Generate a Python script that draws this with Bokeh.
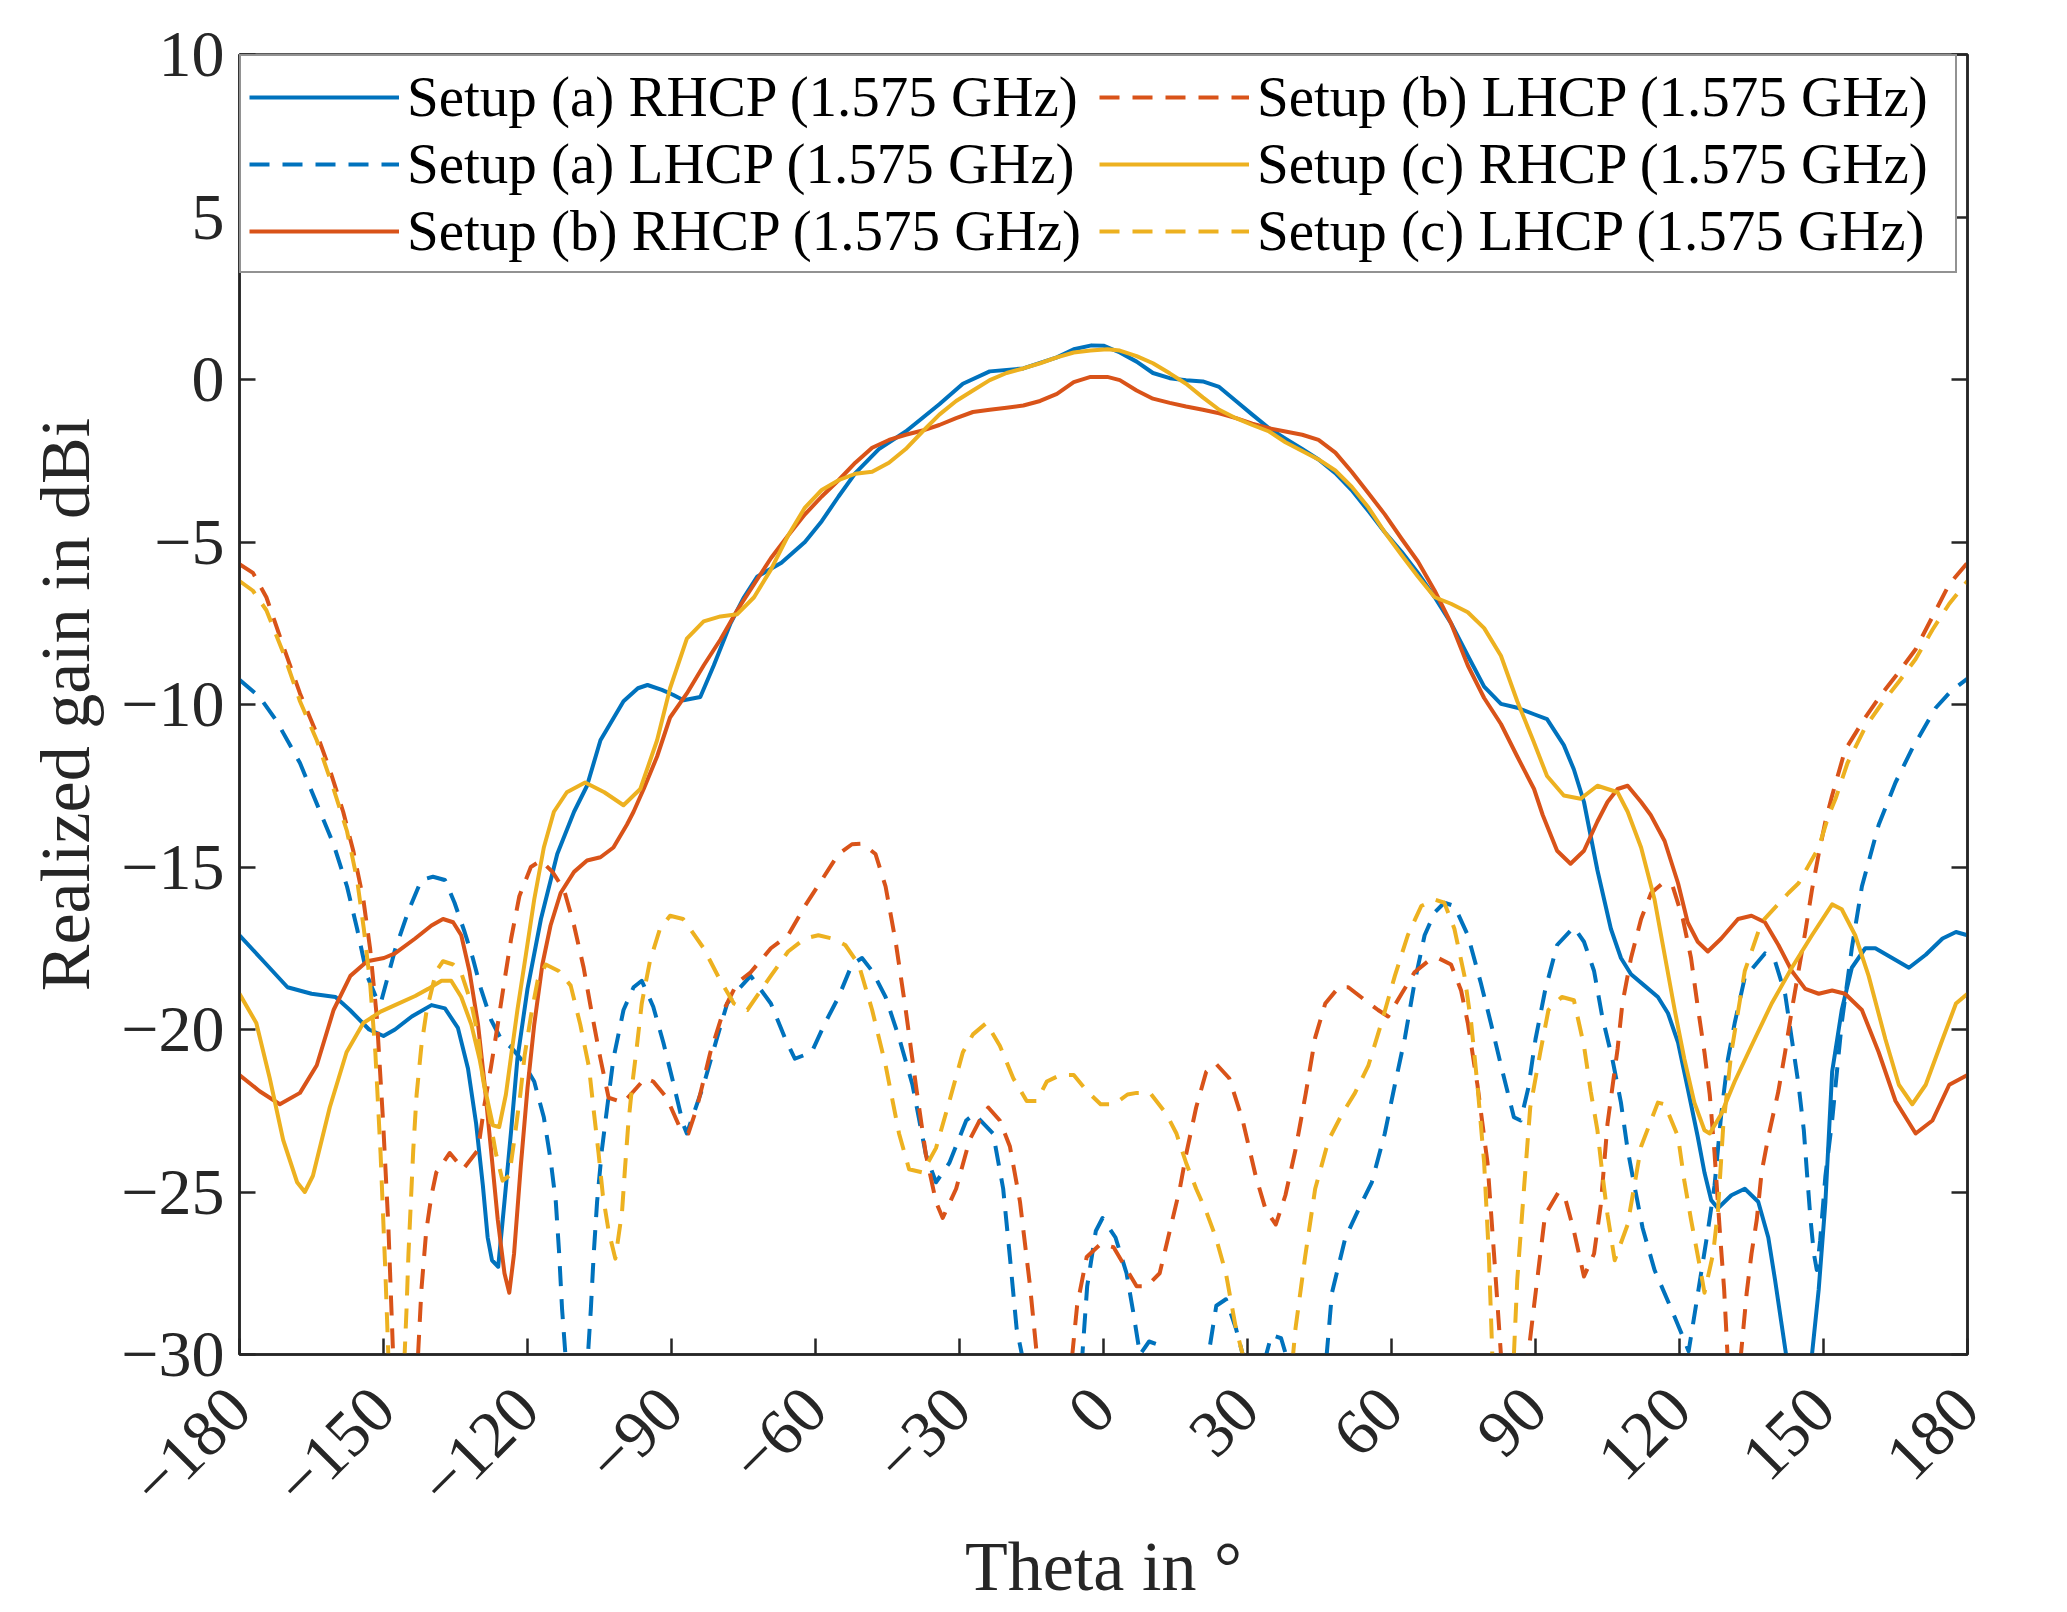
import math
from bokeh.plotting import figure
from bokeh.models import Range1d, FixedTicker, LinearAxis, Legend, LegendItem
from bokeh.embed import file_html
from bokeh.resources import INLINE

# ---------------- data ----------------
x_ticks = [-180, -150, -120, -90, -60, -30, 0, 30, 60, 90, 120, 150, 180]
y_ticks = [-30, -25, -20, -15, -10, -5, 0, 5, 10]

series_labels = [
    "Setup (a) RHCP (1.575 GHz)",
    "Setup (a) LHCP (1.575 GHz)",
    "Setup (b) RHCP (1.575 GHz)",
    "Setup (b) LHCP (1.575 GHz)",
    "Setup (c) RHCP (1.575 GHz)",
    "Setup (c) LHCP (1.575 GHz)",
]

# Setup (a) RHCP
theta_a_rhcp = [-180, -175, -170, -165, -160, -157, -153, -150, -147.6, -144.1, -140, -137.2, -134.5,
                -132.4, -130.7, -129.3, -128.3, -127.4, -126.1, -124.8, -123.4, -122.1, -120, -117.2,
                -113.8, -110.3, -107.6, -104.8, -102, -100, -97, -95, -92, -89.7, -87.5, -84, -81.2,
                -77.7, -74.9, -72.1, -67.1, -62.2, -58.7, -55.2, -51.7, -46.8, -41.2, -34.2, -29.3,
                -23.7, -16.7, -9.7, -6.2, -2.5, 0, 3.4, 6.9, 10.3, 13.8, 17.2, 20.7, 24.1, 27.6, 31,
                34.5, 37.9, 41.4, 44.8, 48.3, 51.7, 55.2, 58.6, 62.1, 65.5, 69, 72.4, 75.9, 79.3,
                82.8, 86.2, 89.7, 92.4, 95.9, 98, 100.1, 102.9, 105.7, 107.8, 109.9, 112.7, 115.5,
                117.6, 119.7, 121.7, 123.8, 125.2, 126.6, 128, 130.8, 133.6, 136.4, 138.5, 139.9,
                141.3, 142.2, 144, 146, 147.6, 149, 150.4, 151.8, 153.8, 155.9, 158.7, 160.8, 164.3,
                167.8, 171.3, 174.8, 177.6, 180]
gain_a_rhcp = [-17.1, -17.9, -18.7, -18.9, -19.0, -19.4, -20.0, -20.2, -20.0, -19.6, -19.25, -19.35, -19.95,
               -21.2, -22.9, -24.8, -26.4, -27.1, -27.3, -25.3, -23.1, -20.9, -18.75, -16.6,
               -14.6, -13.3, -12.5, -11.1, -10.4, -9.9, -9.5, -9.4, -9.55, -9.7, -9.87, -9.77, -8.8,
               -7.5, -6.7, -6.06, -5.64, -5.0, -4.36, -3.6, -2.88, -2.14, -1.6, -0.76, -0.13,
               0.25, 0.34, 0.68, 0.93, 1.05, 1.04, 0.83, 0.55, 0.2, 0.04, -0.02, -0.06, -0.23, -0.66, -1.08,
               -1.5, -1.82, -2.14, -2.46, -2.88, -3.4, -4.05, -4.7, -5.3, -5.95, -6.7, -7.5, -8.5, -9.45,
               -9.98, -10.1, -10.3, -10.45, -11.25, -12.0, -13.0, -15.1, -16.9, -17.8, -18.3, -18.65, -19.0,
               -19.5, -20.4, -21.8, -23.3, -24.4, -25.25, -25.5, -25.1, -24.9, -25.3, -26.4, -27.7,
               -29.1, -30.0, -33, -33, -30.0, -28.0, -25.3, -21.3, -19.4, -18.1, -17.5, -17.5, -17.8,
               -18.1, -17.7, -17.2, -17.0, -17.1]

# Setup (a) LHCP
theta_a_lhcp = [-180, -175.8, -172.3, -167.4, -163.9, -160.4, -157.6, -155.5, -153.4, -151.3, -150.6,
                -147.6, -144.8, -142.1, -139.7, -137.2, -135.2, -133.1, -131.4, -129.7, -127.6, -125.5,
                -123.4, -121.4, -118.6, -116.6, -115.2, -114.1, -113.4, -112.8, -112.1, -110, -108.5,
                -107.4, -106.8, -106.2, -105.5, -104.5, -103.4, -102.1, -100, -97.9, -96.2, -93.8,
                -91.7, -89.7, -87.6, -86.8, -83.3, -80.5, -78.4, -76.3, -73.5, -69.3, -66.4, -64.3,
                -60.8, -58, -55.2, -52.4, -50.3, -48.2, -45.4, -42.6, -39.8, -37, -34.9, -32.1, -28.6,
                -26.9, -23, -20.9, -19.5, -18.1, -17, -14, -7, -4.4, -3.4, -1.6, -0.2, 2.5, 4.8, 6.2,
                7.6, 9.5, 11.5, 13, 15, 20, 22.1, 23.5, 25.5, 27.6, 29, 31, 33, 35, 37, 39, 42, 45,
                46.5, 47.6, 50.4, 53.1, 55.9, 58.6, 60.7, 62.8, 64.8, 66.9, 69, 71, 73.1, 75.9, 78.6,
                80.7, 82.8, 85.5, 86.9, 88.5, 90, 92, 94.5, 98, 100.1, 102.2, 103.9, 106, 107.8,
                109.2, 110.6, 112.3, 114.8, 118.3, 120.7, 121.9, 123.1, 124.5, 125.9, 127.3, 128.7,
                130.1, 131.5, 133.6, 137.8, 139.9, 142, 143.4, 144.8, 145.9, 146.6, 147.3, 148,
                148.6, 149.3, 150.4, 151.8, 153.8, 155.9, 158, 161.5, 165, 168.5, 173.4, 176.5, 180]
gain_a_lhcp = [-9.24, -9.77, -10.5, -11.8, -13.05, -14.3, -15.6, -16.9, -18.35, -19.1, -19.2,
               -17.55, -16.35, -15.4, -15.3, -15.4, -16.1, -17.0, -17.8, -18.75, -19.7, -20.3,
               -20.55, -20.9, -21.6, -22.7, -24.0, -25.3, -26.9, -28.6, -30, -33, -33,
               -30, -28.6, -26.9, -25.3, -23.7, -22.4, -20.9, -19.4, -18.7, -18.5, -19.3,
               -20.4, -21.6, -22.9, -23.2, -21.7, -20.25, -19.2, -18.8, -18.35, -19.2, -20.25, -20.9,
               -20.7, -19.8, -19.0, -18.0, -17.8, -18.2, -19.0, -20.25, -21.7, -23.85, -24.7, -24.1, -22.8,
               -22.6, -23.2, -24.9, -27.0, -29.2, -30, -33, -33, -30, -27.9, -26.2, -25.8, -26.4, -27.5, -28.7,
               -30, -29.6, -29.7, -30.3, -33, -33, -29.8, -28.5, -28.3, -29.2, -30, -33, -30.5, -29.4, -29.5, -30.5, -33, -33,
               -30, -28.1, -26.4, -25.55, -24.7, -23.2, -21.7, -20.25, -18.56, -17.1, -16.4, -16.1, -16.2, -17.1, -18.56,
               -19.8, -21.1, -22.7, -22.8, -21.8, -20.3, -18.8, -17.4, -16.85, -17.3, -18.2, -19.6, -20.9, -22.25,
               -23.7, -24.8, -26.1, -27.4, -28.6, -29.45, -29.9, -28.8, -27.5, -26.2, -24.8, -22.6,
               -20.9, -19.8, -18.4, -17.66, -17.9, -18.9, -20.3, -21.7, -23.1, -24.5, -25.85, -26.9,
               -27.4, -26.5, -24.5, -22.8, -19.8, -17.5, -15.6, -13.7, -12.4, -11.35, -10.1, -9.6, -9.2]

# Setup (b) RHCP
theta_b_rhcp = [-180, -175.8, -171.6, -167.4, -163.9, -160.4, -156.9, -153.4, -149.9, -147.6, -143.4, -140,
                -137.6, -135.5, -133.8, -132.1, -130.3, -129, -127.6, -126.2, -124.8, -123.8, -122.8,
                -121.4, -120, -118.6, -116.9, -115.2, -113.1, -110.3, -107.6, -104.8, -102.1, -99.3,
                -97.9, -95.8, -93, -90.3, -86.8, -83.3, -79.8, -76.3, -72.8, -69.3, -65.7, -62.2, -58.7,
                -55.2, -51.7, -48.2, -44.7, -41.2, -37.7, -34.2, -30.7, -27.2, -23.7, -20.2, -16.7,
                -13.2, -9.7, -6.2, -2.7, 0.8, 3.4, 6.9, 10.3, 13.8, 17.2, 20.7, 24.1, 27.6, 31, 34.5,
                37.9, 41.4, 44.8, 48.3, 51.7, 55.2, 58.6, 62.1, 65.5, 69, 72.4, 75.9, 79.3, 82.8, 86.2,
                89.7, 91.5, 94.5, 97.3, 100.1, 102.9, 105, 107.1, 109.2, 112, 114, 116.9, 119.7, 121.7,
                123.8, 125.9, 128.7, 132.2, 135, 137.8, 140.6, 143.4, 146.2, 149, 151.8, 154.5, 158,
                161.5, 165, 169.2, 172.7, 176.2, 180]
gain_b_rhcp = [-21.4, -21.9, -22.3, -21.95, -21.1, -19.4, -18.35, -17.9, -17.8, -17.66, -17.2, -16.8,
               -16.6, -16.7, -17.1, -18.2, -19.85, -21.6, -23.7, -25.85, -27.5, -28.1, -26.9,
               -24.2, -21.8, -19.85, -18.0, -16.8, -15.8, -15.15, -14.8, -14.7, -14.4, -13.7,
               -13.3, -12.6, -11.6, -10.4, -9.66, -8.8, -8.0, -7.1, -6.3, -5.5, -4.8, -4.15, -3.6,
               -3.1, -2.56, -2.1, -1.86, -1.7, -1.57, -1.4, -1.19, -1.0, -0.93, -0.87, -0.8,
               -0.66, -0.44, -0.08, 0.08, 0.08, -0.02, -0.34, -0.59, -0.72, -0.83, -0.93, -1.04, -1.19, -1.36, -1.5,
               -1.6, -1.7, -1.86, -2.25, -2.84, -3.5, -4.15, -4.9, -5.6, -6.5, -7.5, -8.8, -9.8, -10.6, -11.6,
               -12.6, -13.4, -14.5, -14.9, -14.5, -13.6, -13.0, -12.6, -12.5, -13.0, -13.4, -14.2, -15.5, -16.7,
               -17.3, -17.6, -17.2, -16.6, -16.5, -16.7, -17.4, -18.2, -18.75, -18.9, -18.8, -18.9, -19.4,
               -20.7, -22.2, -23.2, -22.8, -21.7, -21.4]

# Setup (b) LHCP
theta_b_lhcp = [-180, -177.2, -174.4, -170.9, -167.4, -163.9, -161.2, -158.4, -156.3, -154.2, -152.8,
                -151.4, -150.1, -149, -148, -146, -144, -142.8, -142.1, -141.1, -140, -139, -136.2,
                -133.4, -130.3, -129, -127.6, -126.2, -124.8, -123.4, -121.7, -119.3, -117.2, -114.8,
                -112.4, -110.3, -108.3, -106.6, -104.8, -103.1, -100, -97.9, -95.5, -93.8, -91, -88.3,
                -86.5, -84.7, -81.9, -79.1, -76.3, -73.5, -69.3, -65.7, -62.2, -58.7, -55.2, -52.4,
                -50.3, -47.5, -45.4, -43.3, -41.2, -39.1, -37, -34.9, -33.5, -30.7, -27.9, -25.8, -24,
                -21.6, -19.5, -17.4, -15.3, -13.9, -11, -8.5, -6.5, -5.5, -3.5, -0.6, 2.1, 4.1, 6.9, 9,
                11.7, 13.8, 15.9, 17.2, 19.3, 21.4, 23.4, 26.2, 29, 31.7, 33.8, 35.9, 37.9, 40, 42.1,
                44.1, 46.2, 49, 51, 54.5, 57.2, 59.3, 62.1, 64.8, 67.6, 69.7, 72.4, 74.5, 75.9, 77.9,
                80, 81.4, 82.8, 85, 87, 88.5, 89.7, 92, 94.8, 96.2, 98, 100.1, 102.2, 103.6, 105, 106,
                107.1, 108.1, 109.9, 112, 114.1, 116.5, 118.6, 120.7, 122.4, 123.8, 125.2, 126.3, 127.3,
                128.4, 129.3, 130, 131.3, 132.8, 134, 135, 136.1, 137.1, 138.5, 140.6, 142, 143.4,
                144.8, 146.2, 147.6, 149, 150.4, 151.8, 154.5, 158.7, 162.2, 165.7, 169.2, 172.7,
                176.2, 180]
gain_b_lhcp = [-5.68, -5.95, -6.7, -8.2, -9.66, -10.9, -12.0, -13.3, -14.5, -16.0, -17.5,
               -19.6, -22.8, -26.0, -30, -33, -33, -30, -28.0, -26.2, -25.1, -24.4, -23.8,
               -24.3, -23.7, -22.35, -21.15, -19.85, -18.5, -17.2, -15.9, -15.0, -14.8, -15.15,
               -15.7, -16.8, -18.1, -19.5, -20.9, -22.1, -22.25, -21.9, -21.5, -21.6, -22.1, -23.0,
               -23.2, -22.4, -20.7, -19.4, -18.56, -18.24, -17.5, -17.1, -16.2, -15.4, -14.6, -14.3,
               -14.28, -14.6, -15.6, -17.3, -19.4, -21.7, -23.85, -25.3, -25.8, -24.9, -23.4, -22.8, -22.4,
               -22.8, -23.6, -25.3, -27.9, -30, -33, -33, -30, -28.5, -27.0, -26.6, -26.7, -27.2, -27.9, -27.9,
               -27.5, -26.2, -24.9, -23.85, -22.4, -21.3, -21.05, -21.5, -22.8, -24.5, -25.55, -26.0, -25.1, -23.7, -22.0,
               -20.25, -19.2, -18.7, -18.7, -19.1, -19.4, -19.6, -18.9, -18.24, -17.9, -17.8, -18.0, -18.8, -19.8, -21.7,
               -24.1, -27.0, -30, -33, -33, -30, -28.5, -25.7, -25.0, -25.2, -26.2, -27.6, -26.9, -25.4, -22.9, -21.8,
               -20.6, -19.2, -17.8, -16.6, -15.8, -15.5, -15.6, -16.6, -17.8, -19.3, -20.7, -22.0, -23.8,
               -26.2, -28.0, -30, -33, -30, -28.1, -26.9, -25.85, -24.4, -23.3, -21.9, -20.7, -19.4,
               -18.2, -17.0, -15.7, -14.6, -13.6, -12.8, -11.4, -10.4, -9.66, -9.0, -8.3, -7.3,
               -6.3, -5.64]

# Setup (c) RHCP
theta_c_rhcp = [-180, -176.5, -173.7, -170.9, -168, -166.4, -164.7, -161.2, -157.7, -154.2, -150.6,
                -147.6, -143.4, -140.7, -137.9, -135.9, -133.8, -131.7, -130, -128.6, -127.2, -125.9,
                -124.5, -123.4, -122.1, -120.3, -118.6, -116.6, -114.5, -111.8, -108, -104, -100, -96.5,
                -93, -90.3, -86.8, -83.3, -79.8, -76.3, -72.8, -69.3, -65.7, -62.2, -58.7, -55.2, -51.7,
                -48.2, -44.7, -41.2, -37.7, -34.2, -30.7, -27.2, -23.7, -20.2, -16.7, -13.2, -9.7, -6.2,
                -2.7, 0.8, 3.4, 6.9, 10.3, 13.8, 17.2, 20.7, 24.1, 27.6, 31, 34.5, 37.9, 41.4, 44.8,
                48.3, 51.7, 55.2, 58.6, 62.1, 65.5, 69, 72.4, 75.9, 79.3, 82.8, 86.2, 89.5, 92.4, 95.9,
                99.4, 102.9, 107.1, 109.2, 112, 114.8, 116.9, 119, 121, 123.1, 125.2, 126.3, 128.7,
                131.5, 135, 139.2, 143.4, 147.6, 151.8, 153.8, 156.6, 159.4, 162.9, 165.7, 168.5,
                171.3, 174.8, 177.6, 180]
gain_c_rhcp = [-18.9, -19.8, -21.5, -23.4, -24.7, -25.0, -24.5, -22.4, -20.7, -19.8, -19.45,
               -19.25, -18.97, -18.75, -18.5, -18.5, -19.0, -19.85, -20.9, -22.0, -22.95, -23.0,
               -22.0, -20.8, -19.4, -17.66, -16.0, -14.4, -13.3, -12.7, -12.4, -12.7, -13.1, -12.6,
               -11.1, -9.5, -7.97, -7.44, -7.29, -7.22, -6.7, -5.85, -4.8, -3.94, -3.4, -3.1, -2.9,
               -2.84, -2.56, -2.14, -1.6, -1.08, -0.66, -0.34, -0.02, 0.2, 0.34, 0.5, 0.68, 0.83,
               0.89, 0.93, 0.89, 0.72, 0.5, 0.19, -0.13, -0.55, -0.93, -1.19, -1.4, -1.6, -1.93, -2.2, -2.46,
               -2.8, -3.3, -3.94, -4.7, -5.4, -6.06, -6.7, -6.9, -7.16, -7.65, -8.5, -9.9, -11.1, -12.2, -12.8,
               -12.9, -12.5, -12.7, -13.3, -14.4, -16.0, -17.7, -19.4, -20.9, -22.25, -23.1, -23.2, -22.6,
               -21.6, -20.5, -19.2, -18.1, -17.1, -16.15, -16.3, -17.1, -18.35, -20.3, -21.7, -22.3,
               -21.7, -20.3, -19.2, -18.9]

# Setup (c) LHCP
theta_c_lhcp = [-180, -177.2, -174.4, -170.9, -167.4, -163.9, -160.4, -157.6, -155.5, -154.1, -152.8,
                -151.7, -150.6, -149.6, -149, -147.5, -145.6, -145.2, -144.8, -144.3, -143.8, -143.1,
                -142.1, -141, -139, -137.6, -135.5, -133.8, -131.7, -130.3, -129.3, -127.9, -126.6,
                -125.2, -123.8, -122.8, -121.5, -120.6, -119.3, -117.9, -116.2, -113.5, -111, -109,
                -107.2, -106.2, -105.2, -104.3, -103.1, -101.7, -100.3, -99.7, -99, -98.1, -97.2, -96.2,
                -94.5, -92.4, -90.3, -87.6, -86.8, -83.3, -79.8, -77, -74.2, -71.4, -69.3, -65.7, -62.2,
                -59.4, -56.6, -53.8, -51, -48.2, -45.4, -42.6, -40.5, -37.7, -34.9, -32.1, -29.3, -27.2,
                -24.4, -21.6, -18.8, -16, -13.9, -11.8, -9, -6.2, -3.4, -0.6, 2.2, 5, 6.9, 9.7, 13.1,
                15.2, 17.2, 19.3, 21.4, 23.4, 25.5, 27.6, 29, 31, 37, 39.5, 40, 42, 44.1, 46.9, 49.7,
                52.4, 55.2, 57.9, 60.7, 63.4, 66.2, 69, 71, 73.1, 75.2, 76.6, 77.9, 79.3, 80.3, 81, 83,
                85.5, 86.2, 87.6, 88.9, 91, 92.7, 95.5, 98, 100.1, 101.5, 102.9, 103.9, 105, 106.5,
                109.2, 112, 115.5, 116.9, 119.7, 121, 122.4, 124.5, 125.2, 127, 128, 129.1, 130.8,
                133.6, 137.1, 142.7, 144.8, 149, 151.1, 152.5, 155, 158.7, 162, 165.7, 169.2, 172.7,
                176.2, 180]
gain_c_lhcp = [-6.2, -6.5, -7.1, -8.4, -9.9, -11.1, -12.6, -13.9, -15.4, -16.9, -18.56,
               -20.7, -23.85, -27.5, -30, -33, -30, -28.6, -26.9, -25.3, -23.7, -22.0,
               -20.5, -19.4, -18.2, -17.9, -18.0, -18.26, -19.2, -20.2, -21.5, -22.7, -23.8,
               -24.65, -24.5, -23.45, -22.0, -20.8, -19.6, -18.5, -18.0, -18.2, -18.65, -19.85,
               -21.15, -22.5, -23.8, -25.1, -26.2, -27.05, -25.6, -24.3, -22.9, -21.6, -20.5, -19.2,
               -17.9, -16.9, -16.5, -16.6, -16.76, -17.5, -18.5, -19.2, -19.4, -18.8, -18.35, -17.6, -17.2,
               -17.1, -17.2, -17.4, -18.0, -19.4, -21.1, -23.2, -24.3, -24.4, -23.65, -22.2, -20.7, -20.15,
               -19.8, -20.5, -21.5, -22.2, -22.2, -21.6, -21.4, -21.4, -21.9, -22.3, -22.3, -22.0, -21.95, -21.95, -22.6,
               -23.2, -24.1, -24.9, -25.6, -26.4, -27.5, -29.2, -30, -33, -33, -30, -29.2, -27.0, -24.9, -23.4, -22.6,
               -21.95, -21.1, -19.8, -18.35, -17.1, -16.2, -16.0, -16.1, -16.9, -18.35, -19.8, -21.7, -24.1, -27.0, -30, -33,
               -30, -27.7, -24.9, -22.4, -20.7, -19.4, -19.0, -19.1, -20.5, -21.9, -23.1, -24.4, -25.7, -27.1,
               -26.0, -23.6, -22.25, -22.3, -23.3, -24.65, -25.85, -27.5, -28.1, -26.9, -25.6, -23.0, -20.7,
               -18.2, -16.7, -15.8, -15.5, -14.4, -13.4, -12.9, -11.8, -10.7, -10.0, -9.3, -8.6, -7.7,
               -6.9, -6.2]

# ---------------- styling ----------------
BLUE = "#0072BD"
ORANGE = "#D95319"
YELLOW = "#EDB120"
AX = "#262626"
FONT = "Liberation Serif"
DASH = "20 13"
LW = 4


def minus(v):
    return str(v).replace("-", "\u2212")


p = figure(frame_width=1728, frame_height=1300,
           x_range=Range1d(-180, 180), y_range=Range1d(-30, 10),
           output_backend="svg", toolbar_location=None,
           min_border_left=239, min_border_right=80, min_border_top=54, min_border_bottom=240,
           background_fill_color="white", border_fill_color="white")
p.grid.visible = False
p.outline_line_color = AX
p.outline_line_width = 2.5


def style_axis(ax):
    ax.major_tick_in = 16
    ax.major_tick_out = 0
    ax.minor_tick_in = 0
    ax.minor_tick_out = 0
    ax.axis_line_color = AX
    ax.axis_line_width = 2.5
    ax.major_tick_line_color = AX
    ax.major_tick_line_width = 2.5
    ax.major_label_text_font = FONT
    ax.major_label_text_font_size = "66px"
    ax.major_label_text_color = AX
    ax.axis_label_text_font = FONT
    ax.axis_label_text_font_size = "70px"
    ax.axis_label_text_font_style = "normal"
    ax.axis_label_text_color = AX


xa = p.xaxis[0]
xa.ticker = FixedTicker(ticks=x_ticks)
xa.major_label_overrides = {t: minus(t) for t in x_ticks}
style_axis(xa)
xa.major_label_orientation = math.pi / 4
xa.major_label_standoff = 44
xa.axis_label = "Theta in \u00b0"
xa.axis_label_standoff = 0

ya = p.yaxis[0]
ya.ticker = FixedTicker(ticks=y_ticks)
ya.major_label_overrides = {t: minus(t) for t in y_ticks}
style_axis(ya)
ya.major_label_standoff = 15
ya.axis_label = "Realized gain in dBi"
ya.axis_label_standoff = 14

# right-hand axis: ticks only (box style), labels not painted
ra = LinearAxis(ticker=FixedTicker(ticks=y_ticks))
style_axis(ra)
ra.major_label_text_font_size = "8px"
ra.major_label_text_color = None
p.add_layout(ra, "right")

specs = [
    (theta_a_rhcp, gain_a_rhcp, BLUE, "solid"),
    (theta_a_lhcp, gain_a_lhcp, BLUE, DASH),
    (theta_b_rhcp, gain_b_rhcp, ORANGE, "solid"),
    (theta_b_lhcp, gain_b_lhcp, ORANGE, DASH),
    (theta_c_rhcp, gain_c_rhcp, YELLOW, "solid"),
    (theta_c_lhcp, gain_c_lhcp, YELLOW, DASH),
]
items = []
for (th, g, col, dash), lab in zip(specs, series_labels):
    r = p.line(th, g, line_color=col, line_width=LW, line_dash=dash, line_join="round")
    items.append(LegendItem(label=lab, renderers=[r]))

legend = Legend(items=items, location="top_left", orientation="vertical", nrows=3, ncols=2,
                margin=0, padding=8, spacing=2, glyph_width=150, glyph_height=40,
                label_standoff=8, label_width=690,
                label_text_font=FONT, label_text_font_size="57px", label_text_color="#000000",
                border_line_color=AX, border_line_width=2.5,
                background_fill_color="white", background_fill_alpha=1.0)
p.add_layout(legend)

open("out.html", "w").write(file_html(p, INLINE))
